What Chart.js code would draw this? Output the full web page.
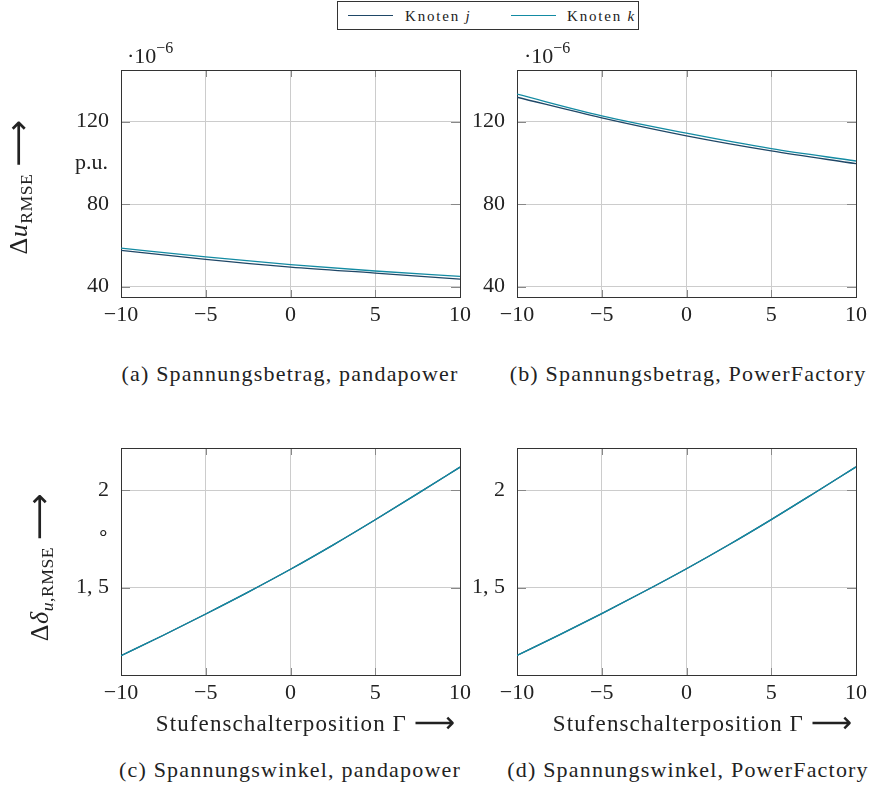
<!DOCTYPE html>
<html>
<head>
<meta charset="utf-8">
<script src="https://cdn.jsdelivr.net/npm/chart.js@4.4.0/dist/chart.umd.min.js"></script>
<style>
  body { margin: 0; background: #fff; width: 876px; height: 786px; position: relative; overflow: hidden;
         font-family: "Liberation Serif", serif; color: #222; }
  canvas { position: absolute; }
  .t { position: absolute; white-space: nowrap; line-height: 1; }
  .sup { position: relative; top: -10px; font-size: 16px; }
  .arr { font-family: "DejaVu Sans", sans-serif; font-size: 1.25em; position: relative; top: 0.05em; }
  sub { font-size: 0.68em; vertical-align: -0.25em; }
  #legend { position: absolute; left: 337px; top: 1px; width: 302px; height: 29px; border: 1px solid #333;
            box-sizing: border-box; }
  .lline { position: absolute; top: 13px; width: 45px; height: 0; border-top: 1.3px solid; }
</style>
</head>
<body>
<div id="legend">
  <div class="lline" style="left:10px; border-color:#1f4767"></div>
  <div class="t" style="left:67px; top:7px; font-size:15px; letter-spacing:1.8px">Knoten <i>j</i></div>
  <div class="lline" style="left:173px; border-color:#138ba3"></div>
  <div class="t" style="left:229px; top:7px; font-size:15px; letter-spacing:1.8px">Knoten <i>k</i></div>
</div>
<canvas id="magPanda" width="430" height="290" style="left:50px; top:50px"></canvas>
<canvas id="magPf" width="430" height="290" style="left:446px; top:50px"></canvas>
<canvas id="angPanda" width="430" height="290" style="left:50px; top:428px"></canvas>
<canvas id="angPf" width="430" height="290" style="left:446px; top:428px"></canvas>
<script>
// Stufenschalterposition (x) and tick values
const gamma = [-10, -5, 0, 5, 10];
const gammaFine = [-10, -7.5, -5, -2.5, 0, 2.5, 5, 7.5, 10];
const xTicks = [-10, -5, 0, 5, 10];
const magTicks = [40, 80, 120];
const angTicks = [1.5, 2];

// Spannungsbetrag, values in 1e-6 p.u.
const magPandaJ = [57.6, 53.2, 49.5, 46.6, 43.7];
const magPandaK = [58.7, 54.4, 50.7, 47.6, 45.0];
const magPfJ = [131.8, 121.8, 113.1, 105.8, 99.6];
const magPfK = [133.3, 122.8, 114.4, 106.9, 100.9];

// Spannungswinkel, degrees
const angPandaJ = [1.151, 1.256, 1.365, 1.477, 1.594, 1.718, 1.848, 1.982, 2.118];
const angPandaK = [1.151, 1.256, 1.365, 1.477, 1.594, 1.718, 1.848, 1.982, 2.118];
const angPfJ = [1.152, 1.258, 1.367, 1.480, 1.597, 1.720, 1.849, 1.983, 2.119];
const angPfK = [1.152, 1.258, 1.367, 1.480, 1.597, 1.720, 1.849, 1.983, 2.119];

const colorJ = '#1f4767';
const colorK = '#138ba3';
const tickFont = { family: '"Liberation Serif", serif', size: 22 };

// frame around the plot area plus short inner tick marks (pgfplots look)
const framePlugin = {
    id: 'frame',
    beforeDatasetsDraw(chart) {
        const { ctx, chartArea: a, scales } = chart;
        ctx.save();
        ctx.strokeStyle = '#888';
        ctx.lineWidth = 1;
        ctx.beginPath();
        scales.x.ticks.forEach(t => {
            const px = Math.round(scales.x.getPixelForValue(t.value)) + 0.5;
            ctx.moveTo(px, a.bottom); ctx.lineTo(px, a.bottom - 7);
            ctx.moveTo(px, a.top); ctx.lineTo(px, a.top + 7);
        });
        scales.y.ticks.forEach(t => {
            const py = Math.round(scales.y.getPixelForValue(t.value)) + 0.5;
            ctx.moveTo(a.left, py); ctx.lineTo(a.left + 9, py);
            ctx.moveTo(a.right, py); ctx.lineTo(a.right - 9, py);
        });
        ctx.stroke();
        ctx.strokeStyle = '#333';
        ctx.strokeRect(Math.round(a.left) + 0.5, Math.round(a.top) + 0.5,
                       Math.round(a.right - a.left), Math.round(a.bottom - a.top));
        ctx.restore();
    }
};

function toPoints(xs, ys) {
    return xs.map((x, i) => ({ x: x, y: ys[i] }));
}

function minusSign(v) {
    return String(v).replace('-', '\u2212');
}

function makeChart(id, xs, seriesJ, seriesK, yMin, yMax, yTicks, yFormat) {
    const ctx = document.getElementById(id).getContext('2d');
    return new Chart(ctx, {
        type: 'line',
        data: {
            datasets: [
                // k is drawn on top of j (lower order = drawn last)
                { label: 'Knoten j', data: toPoints(xs, seriesJ), borderColor: colorJ, order: 1 },
                { label: 'Knoten k', data: toPoints(xs, seriesK), borderColor: colorK, order: 0 }
            ]
        },
        options: {
            responsive: false,
            animation: false,
            layout: { padding: { left: 0, top: 20, right: 20, bottom: 0 } },
            plugins: { legend: { display: false }, tooltip: { enabled: false } },
            elements: {
                point: { radius: 0 },
                line: { borderWidth: 1.3, cubicInterpolationMode: 'monotone' }
            },
            scales: {
                x: {
                    type: 'linear',
                    min: -10,
                    max: 10,
                    afterBuildTicks: s => { s.ticks = xTicks.map(v => ({ value: v })); },
                    afterFit: s => { s.height = 43; s.paddingLeft = 0; s.paddingRight = 0; },
                    grid: { color: '#cccccc', drawTicks: false },
                    border: { display: false },
                    ticks: { padding: 5, font: tickFont, color: '#222', maxRotation: 0, callback: minusSign }
                },
                y: {
                    type: 'linear',
                    min: yMin,
                    max: yMax,
                    afterBuildTicks: s => { s.ticks = yTicks.map(v => ({ value: v })); },
                    afterFit: s => { s.width = 71; s.paddingTop = 0; s.paddingBottom = 0; },
                    grid: { color: '#cccccc', drawTicks: false },
                    border: { display: false },
                    ticks: { padding: 12, font: tickFont, color: '#222', callback: yFormat }
                }
            }
        },
        plugins: [framePlugin]
    });
}

function addText(html, x, y, size, align, extra) {
    const d = document.createElement('div');
    d.className = 't';
    d.innerHTML = html;
    d.style.left = x + 'px';
    d.style.top = y + 'px';
    d.style.fontSize = size + 'px';
    const tx = align === 'left' ? '0' : align === 'right' ? '-100%' : '-50%';
    d.style.transform = `translate(${tx},-50%)` + (extra || '');
    document.body.appendChild(d);
    return d;
}

window.onload = function () {
    const magFmt = v => String(v);
    const angFmt = v => String(v).replace('.', ', ');

    makeChart('magPanda', gamma, magPandaJ, magPandaK, 35, 145, magTicks, magFmt);
    makeChart('magPf', gamma, magPfJ, magPfK, 35, 145, magTicks, magFmt);
    makeChart('angPanda', gammaFine, angPandaJ, angPandaK, 1.052, 2.216, angTicks, angFmt);
    makeChart('angPf', gammaFine, angPfJ, angPfK, 1.052, 2.216, angTicks, angFmt);

    // exponent labels
    addText('\u00b710<span class="sup">\u22126</span>', 127, 56, 22, 'left');
    addText('\u00b710<span class="sup">\u22126</span>', 524, 56, 22, 'left');

    // units and axis titles
    const arrow = ' <span class="arr">\u27f6</span>';
    addText('p.u.', 108, 162, 22, 'right');
    addText('\u2218', 103, 533, 20, 'center');
    const yt1 = addText('\u0394<i>u</i><sub>RMSE</sub>' + arrow, 18, 187, 26, 'center', ' rotate(-90deg)');
    const yt2 = addText('\u0394<i>\u03b4</i><sub><i>u</i>,RMSE</sub>' + arrow, 39, 567, 26, 'center', ' rotate(-90deg)');
    yt1.style.letterSpacing = '0.5px';
    yt2.style.letterSpacing = '0.5px';
    ['306', '703'].forEach(x => {
        const d = addText('Stufenschalterposition \u0393' + arrow, +x, 721, 23, 'center');
        d.style.letterSpacing = '1.1px';
    });

    // sub captions
    const cap = [
        ['(a) Spannungsbetrag, pandapower', 290, 374],
        ['(b) Spannungsbetrag, PowerFactory', 688, 374],
        ['(c) Spannungswinkel, pandapower', 290, 770],
        ['(d) Spannungswinkel, PowerFactory', 688, 770]
    ];
    cap.forEach(c => {
        const d = addText(c[0], c[1], c[2], 22, 'center');
        d.style.letterSpacing = '1.2px';
    });
};
</script>
</body>
</html>
